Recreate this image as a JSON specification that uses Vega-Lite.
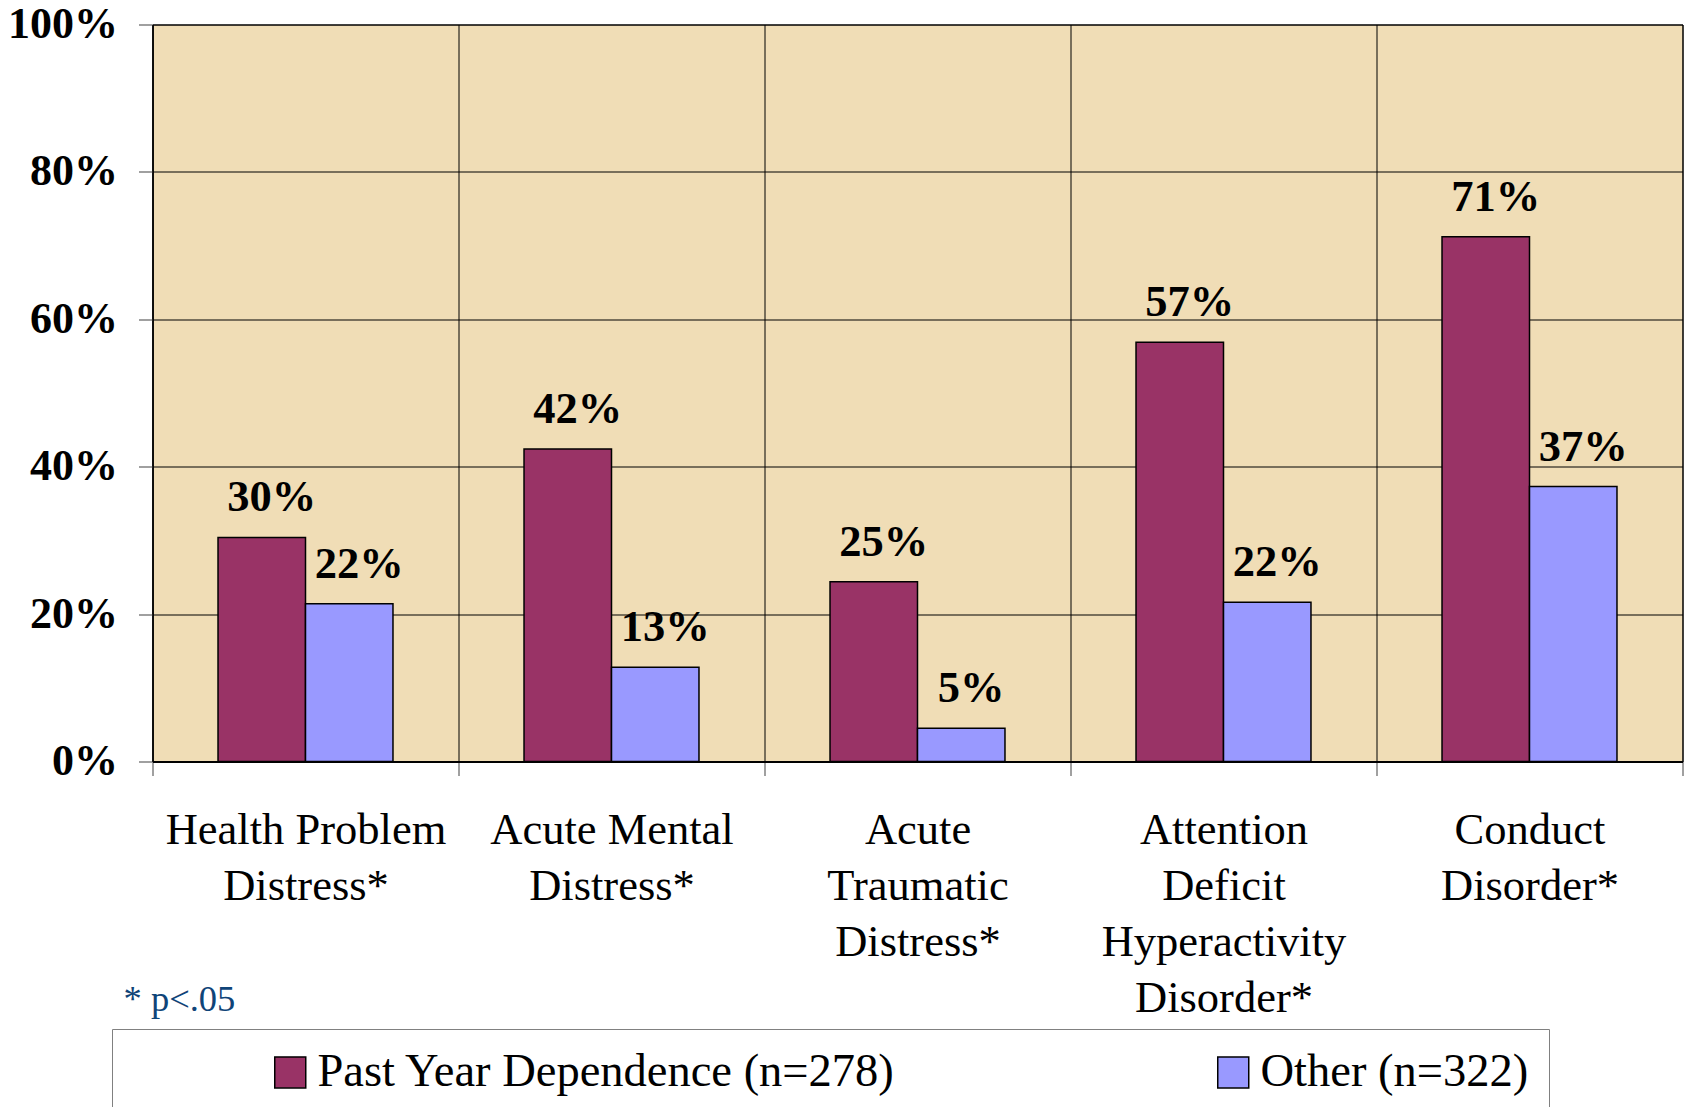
{
  "$schema": "https://vega.github.io/schema/vega-lite/v6.json",
  "width": 1530,
  "height": 737,
  "autosize": {"type": "none"},
  "padding": {"left": 152.5, "top": 24.5, "right": 1.5, "bottom": 345.5},
  "background": "white",
  "config": {
    "view": {"fill": "#F0DDB6", "stroke": "#000000", "strokeWidth": 1},
    "font": "Liberation Serif"
  },
  "data": {
    "values": [
      {"category": "Health Problem|Distress*", "series": "Past Year Dependence (n=278)", "value": 0.304, "label": "30%"},
      {"category": "Health Problem|Distress*", "series": "Other (n=322)", "value": 0.214, "label": "22%"},
      {"category": "Acute Mental|Distress*", "series": "Past Year Dependence (n=278)", "value": 0.424, "label": "42%"},
      {"category": "Acute Mental|Distress*", "series": "Other (n=322)", "value": 0.128, "label": "13%"},
      {"category": "Acute|Traumatic|Distress*", "series": "Past Year Dependence (n=278)", "value": 0.244, "label": "25%"},
      {"category": "Acute|Traumatic|Distress*", "series": "Other (n=322)", "value": 0.045, "label": "5%"},
      {"category": "Attention|Deficit|Hyperactivity|Disorder*", "series": "Past Year Dependence (n=278)", "value": 0.569, "label": "57%"},
      {"category": "Attention|Deficit|Hyperactivity|Disorder*", "series": "Other (n=322)", "value": 0.216, "label": "22%"},
      {"category": "Conduct|Disorder*", "series": "Past Year Dependence (n=278)", "value": 0.712, "label": "71%"},
      {"category": "Conduct|Disorder*", "series": "Other (n=322)", "value": 0.373, "label": "37%"}
    ]
  },
  "encoding": {
    "x": {
      "field": "category",
      "type": "nominal",
      "sort": null,
      "scale": {"paddingInner": 0, "paddingOuter": 0},
      "axis": {
        "title": "* p<.05",
        "titleX": -29.5,
        "titleY": 249,
        "titleAlign": "left",
        "titleBaseline": "alphabetic",
        "titleFont": "Liberation Serif",
        "titleFontSize": 36.5,
        "titleFontWeight": "normal",
        "titleColor": "#0F4478",
        "labelAngle": 0,
        "labelAlign": "center",
        "labelExpr": "split(datum.label, '|')",
        "labelFont": "Liberation Serif",
        "labelFontSize": 44.5,
        "labelColor": "#000000",
        "labelLineHeight": 56,
        "labelPadding": 33,
        "labelBaseline": "top",
        "labelLimit": 0,
        "tickBand": "extent",
        "tickSize": 14,
        "tickColor": "#808080",
        "tickWidth": 1.5,
        "grid": true,
        "gridColor": "#000000",
        "gridWidth": 1,
        "domainColor": "#000000",
        "domainWidth": 2
      }
    },
    "xOffset": {
      "field": "series",
      "type": "nominal",
      "sort": ["Past Year Dependence (n=278)", "Other (n=322)"],
      "scale": {"paddingInner": 0, "paddingOuter": 0.749}
    },
    "y": {
      "field": "value",
      "type": "quantitative",
      "scale": {"domain": [0, 1], "nice": false},
      "axis": {
        "title": null,
        "values": [0, 0.2, 0.4, 0.6, 0.8, 1],
        "format": ".0%",
        "labelFont": "Liberation Serif",
        "labelFontSize": 44,
        "labelFontWeight": "bold",
        "labelColor": "#000000",
        "labelPadding": 21,
        "tickSize": 14,
        "tickColor": "#808080",
        "tickWidth": 1.5,
        "grid": true,
        "gridColor": "#000000",
        "gridWidth": 1,
        "domainColor": "#000000",
        "domainWidth": 1.5
      }
    }
  },
  "layer": [
    {
      "mark": {"type": "bar", "stroke": "#000000", "strokeWidth": 1.5},
      "encoding": {
        "color": {
          "field": "series",
          "type": "nominal",
          "scale": {"domain": ["Past Year Dependence (n=278)", "Other (n=322)"], "range": ["#993366", "#9999FF"]},
          "legend": {
            "title": " ",
            "titleOrient": "left",
            "titleFontSize": 1,
            "titlePadding": 135,
            "orient": "none",
            "legendX": -40.5,
            "legendY": 1004.5,
            "direction": "horizontal",
            "columns": 2,
            "gridAlign": "all",
            "columnPadding": 314,
            "symbolType": "square",
            "symbolSize": 961,
            "symbolStrokeColor": "#000000",
            "symbolStrokeWidth": 1.5,
            "symbolOpacity": 1,
            "labelFont": "Liberation Serif",
            "labelFontSize": 46.5,
            "labelColor": "#000000",
            "labelLimit": 900,
            "labelOffset": 4,
            "padding": 20,
            "strokeColor": "#808080",
            "fillColor": "#FFFFFF"
          }
        }
      }
    },
    {
      "mark": {"type": "text", "font": "Liberation Serif", "fontSize": 44.5, "fontWeight": "bold", "baseline": "alphabetic", "dy": -26, "dx": 10, "color": "#000000"},
      "encoding": {"text": {"field": "label"}}
    }
  ]
}
